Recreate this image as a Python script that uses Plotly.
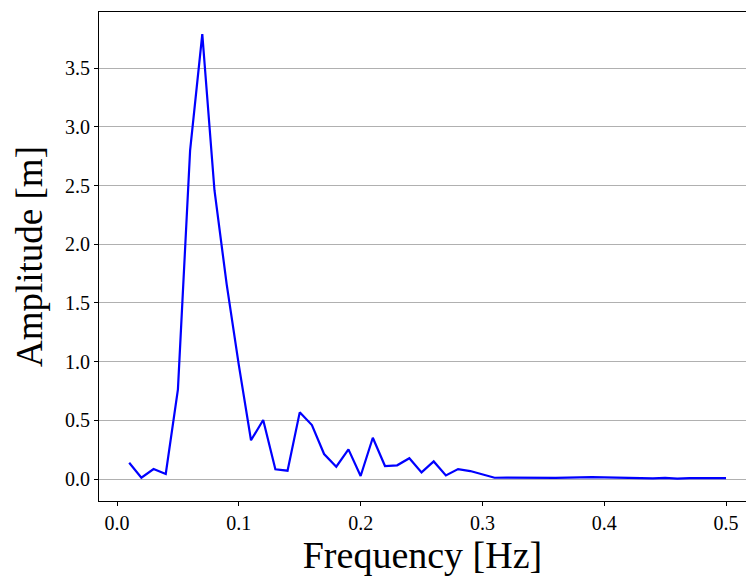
import plotly.graph_objects as go

freq = [round(0.01 * i, 2) for i in range(1, 51)]
amplitude = [0.139, 0.011, 0.085, 0.043, 0.764, 2.80, 3.79, 2.46, 1.66, 0.97,
             0.33, 0.503, 0.083, 0.071, 0.568, 0.46, 0.213, 0.105, 0.253, 0.026,
             0.352, 0.111, 0.117, 0.177, 0.057, 0.15, 0.031, 0.085, 0.068, 0.04,
             0.011, 0.012, 0.010, 0.012, 0.010, 0.010, 0.012, 0.016, 0.016, 0.014,
             0.012, 0.008, 0.007, 0.005, 0.010, 0.004, 0.008, 0.006, 0.003, 0.007]
x_ticks = [0.0, 0.1, 0.2, 0.3, 0.4, 0.5]
y_ticks = [0.0, 0.5, 1.0, 1.5, 2.0, 2.5, 3.0, 3.5]

font_family = "Liberation Serif, DejaVu Serif, serif"

fig = go.Figure()
fig.add_trace(go.Scatter(x=freq, y=amplitude, mode="lines",
                         line=dict(color="#0000ff", width=2.2)))

fig.update_layout(
    width=746, height=578,
    margin=dict(l=99, r=0, t=12, b=77, autoexpand=False),
    paper_bgcolor="white", plot_bgcolor="white",
    showlegend=False,
    font=dict(family=font_family, color="black", size=20),
    xaxis=dict(
        range=[-0.0148, 0.5164], automargin=False,
        tickvals=x_ticks, ticktext=[f"{v:.1f}" for v in x_ticks],
        ticks="outside", ticklen=4, tickwidth=1, tickcolor="black",
        showline=True, linecolor="black", linewidth=1.2, mirror=True,
        showgrid=False, zeroline=False,
        title=dict(text="Frequency [Hz]", font=dict(size=38, family=font_family), standoff=8),
    ),
    yaxis=dict(
        range=[-0.187, 3.978], automargin=False,
        tickvals=y_ticks, ticktext=[f"{v:.1f}" for v in y_ticks],
        ticks="outside", ticklen=4, tickwidth=1, tickcolor="black",
        showline=True, linecolor="black", linewidth=1.2,
        showgrid=True, gridcolor="#b0b0b0", gridwidth=1,
        zeroline=False,
        title=dict(text="Amplitude [m]", font=dict(size=37, family=font_family), standoff=10),
    ),
)

fig.write_html("out.html",
               config={"displayModeBar": False},
               post_script="document.body.style.margin='0';document.body.style.overflow='hidden';")
